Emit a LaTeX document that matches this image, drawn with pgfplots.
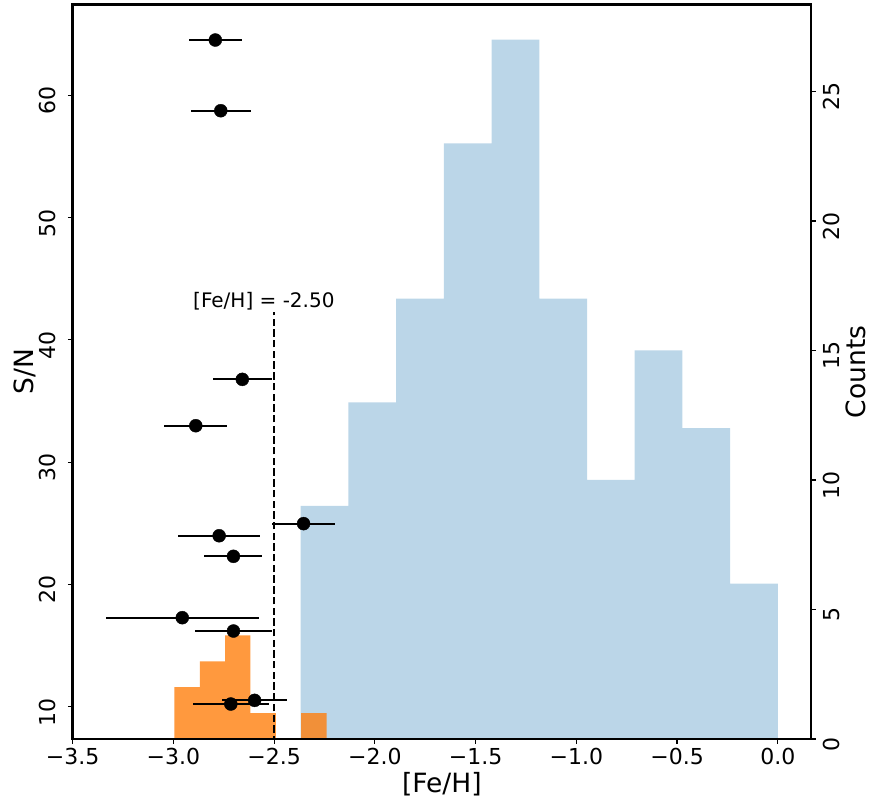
\documentclass[border=0pt]{standalone}
\usepackage{pgfplots}
\pgfplotsset{compat=1.18}
\usepackage{pgfplotstable}
\usepackage{fontspec}
\setmainfont{DejaVu Sans}
\definecolor{c0}{HTML}{1F77B4}
\definecolor{c1}{HTML}{FF7F0E}

\pgfplotstableread{
x y ex
-2.792 64.52 0.133
-2.765 58.74 0.148
-2.658 36.77 0.148
-2.889 32.98 0.157
-2.354 24.97 0.156
-2.773 23.98 0.202
-2.702 22.30 0.144
-2.956 17.28 0.380
-2.702 16.19 0.190
-2.597 10.52 0.162
-2.715 10.22 0.190
}\points

\pgfplotstableread{
x c
-2.368 9
-2.131 13
-1.894 17
-1.658 23
-1.421 27
-1.184 17
-0.947 10
-0.710 15
-0.474 12
-0.237 6
0.000 6
}\bluehist

\pgfplotstableread{
x c
-2.995 2
-2.869 3
-2.743 4
-2.618 1
-2.492 0
-2.366 1
-2.240 1
}\orangehist

\begin{document}
\begin{tikzpicture}
\pgfplotsset{
  common/.style={
    scale only axis, width=738.3pt, height=734.3pt,
    xmin=-3.5, xmax=0.165,
    tick align=outside, major tick length=4.9pt,
    tick style={line width=1.1pt, black},
    axis line style={line width=2.9pt},
    ticklabel style={font=\fontsize{22}{26}\selectfont},
    label style={font=\fontsize{26.5}{30}\selectfont},
  }
}
% Counts axis (right) with histograms
\begin{axis}[common,
  ymin=0, ymax=28.35,
  hide x axis,
  axis y line*=right,
  ytick={0,5,10,15,20,25},
  yticklabels={0,5,10,15,20,25},
  yticklabel style={rotate=90, anchor=base, inner sep=0pt, yshift=-24pt, xshift=-5.5pt},
  ylabel={Counts},
  ylabel style={at={(rel axis cs:1,0.5)}, anchor=base, inner sep=0pt, yshift=-54pt},
]
\addplot[ybar interval, fill=c0, fill opacity=0.3, draw=none] table[x=x, y=c] {\bluehist};
\addplot[ybar interval, fill=c1, fill opacity=0.8, draw=none] table[x=x, y=c] {\orangehist};
\end{axis}
% S/N axis (left) with points
\begin{axis}[common,
  ymin=7.36, ymax=67.41,
  xtick pos=bottom, ytick pos=left,
  xtick={-3.5,-3,-2.5,-2,-1.5,-1,-0.5,0},
  xticklabels={−3.5,−3.0,−2.5,−2.0,−1.5,−1.0,−0.5,0.0},
  ytick={10,20,30,40,50,60},
  yticklabels={10,20,30,40,50,60},
  xticklabel style={anchor=base, inner sep=0pt, yshift=-21pt},
  yticklabel style={rotate=90, anchor=base, inner sep=0pt, yshift=12pt, xshift=-5.5pt},
  xlabel={[Fe/H]},
  xlabel style={at={(rel axis cs:0.5,0)}, anchor=base, inner sep=0pt, yshift=-54pt},
  ylabel={S/N},
  ylabel style={at={(rel axis cs:0,0.5)}, anchor=base, inner sep=0pt, yshift=39.5pt},
]
\addplot[black, line width=2.2pt, dash pattern=on 7.4pt off 3.3pt] coordinates {(-2.5,0) (-2.5,42.3)};
\addplot[only marks, mark=*, mark size=6.5pt, black, mark options={fill=black},
  error bars/.cd, x dir=both, x explicit, error mark=none,
  error bar style={line width=2pt, black}]
  table[x=x, y=y, x error=ex] {\points};
\node[font=\fontsize{20}{24}\selectfont, anchor=base, inner sep=0pt] at (axis cs:-2.551,42.66) {[Fe/H] = -2.50};
\end{axis}
\pgfresetboundingbox
\path (-72.7pt,-63pt) rectangle (799.3pt,739pt);
\end{tikzpicture}
\end{document}
